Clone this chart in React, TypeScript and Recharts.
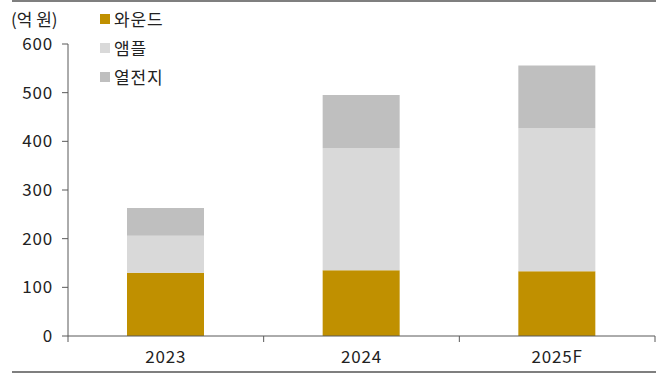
import React from 'react';
import { BarChart, Bar, XAxis, YAxis } from 'recharts';

const years = ['2023', '2024', '2025F'];
const wound = [130, 135, 133];
const ample = [76, 251, 294];
const thermal = [57, 109, 129];
const yTicks = [0, 100, 200, 300, 400, 500, 600];

const seriesNames = ['와운드', '앰플', '열전지'];
const COLORS = ['#C09000', '#D9D9D9', '#BFBFBF'];

const W = 668;
const H = 374;
const margin = { top: 44, right: 13, bottom: 8, left: 8 };
const yAxisWidth = 60;
const plotLeft = margin.left + yAxisWidth;
const halfBand = (W - margin.right - plotLeft) / years.length / 2;
const FONT = '"Noto Sans CJK KR", "Noto Sans", sans-serif';
const textStyle = { fontFamily: FONT, fontSize: 17, letterSpacing: 0.8 };

const data = years.map((year, i) => ({
  year,
  [seriesNames[0]]: wound[i],
  [seriesNames[1]]: ample[i],
  [seriesNames[2]]: thermal[i],
}));

// category labels plus tick marks on the band boundaries
const XTick = (props: any) => {
  const { x, y, payload, index } = props;
  return (
    <g>
      <line x1={x - halfBand} y1={y} x2={x - halfBand} y2={y + 6} stroke="#595959" />
      {index === years.length - 1 && (
        <line x1={x + halfBand} y1={y} x2={x + halfBand} y2={y + 6} stroke="#595959" />
      )}
      <text x={x} y={y + 27} textAnchor="middle" fill="#222" style={textStyle}>
        {payload.value}
      </text>
    </g>
  );
};

const LegendBox = () => (
  <div style={{ position: 'absolute', left: 100, top: 4, ...textStyle, color: '#222' }}>
    {seriesNames.map((name, i) => (
      <div key={name} style={{ display: 'flex', alignItems: 'center', height: 29 }}>
        <span style={{ width: 10, height: 10, background: COLORS[i], marginRight: 4, display: 'inline-block' }} />
        {name}
      </div>
    ))}
  </div>
);

export default function App() {
  return (
    <div style={{ position: 'absolute', left: 0, top: 0, width: W, height: H, background: '#fff' }}>
      <div style={{ position: 'absolute', left: 12, top: 0, width: 644, height: 2, background: '#7F7F7F' }} />
      <div style={{ position: 'absolute', left: 12, top: 371, width: 644, height: 2, background: '#7F7F7F' }} />
      <div style={{ position: 'absolute', left: 11, top: 6, ...textStyle, letterSpacing: 0, color: '#222' }}>(억 원)</div>
      <LegendBox />
      <BarChart width={W} height={H} data={data} margin={margin}>
        <XAxis
          dataKey="year"
          tickLine={false}
          tickSize={0}
          tickMargin={0}
          axisLine={{ stroke: '#595959' }}
          tick={<XTick />}
          interval={0}
          height={30}
        />
        <YAxis
          width={yAxisWidth}
          domain={[0, 600]}
          ticks={yTicks}
          tickSize={6}
          tickMargin={9}
          axisLine={{ stroke: '#595959' }}
          tickLine={{ stroke: '#595959' }}
          tick={{ fill: '#222', style: textStyle }}
        />
        {seriesNames.map((name, i) => (
          <Bar key={name} dataKey={name} stackId="a" fill={COLORS[i]} barSize={77} isAnimationActive={false} />
        ))}
      </BarChart>
    </div>
  );
}
